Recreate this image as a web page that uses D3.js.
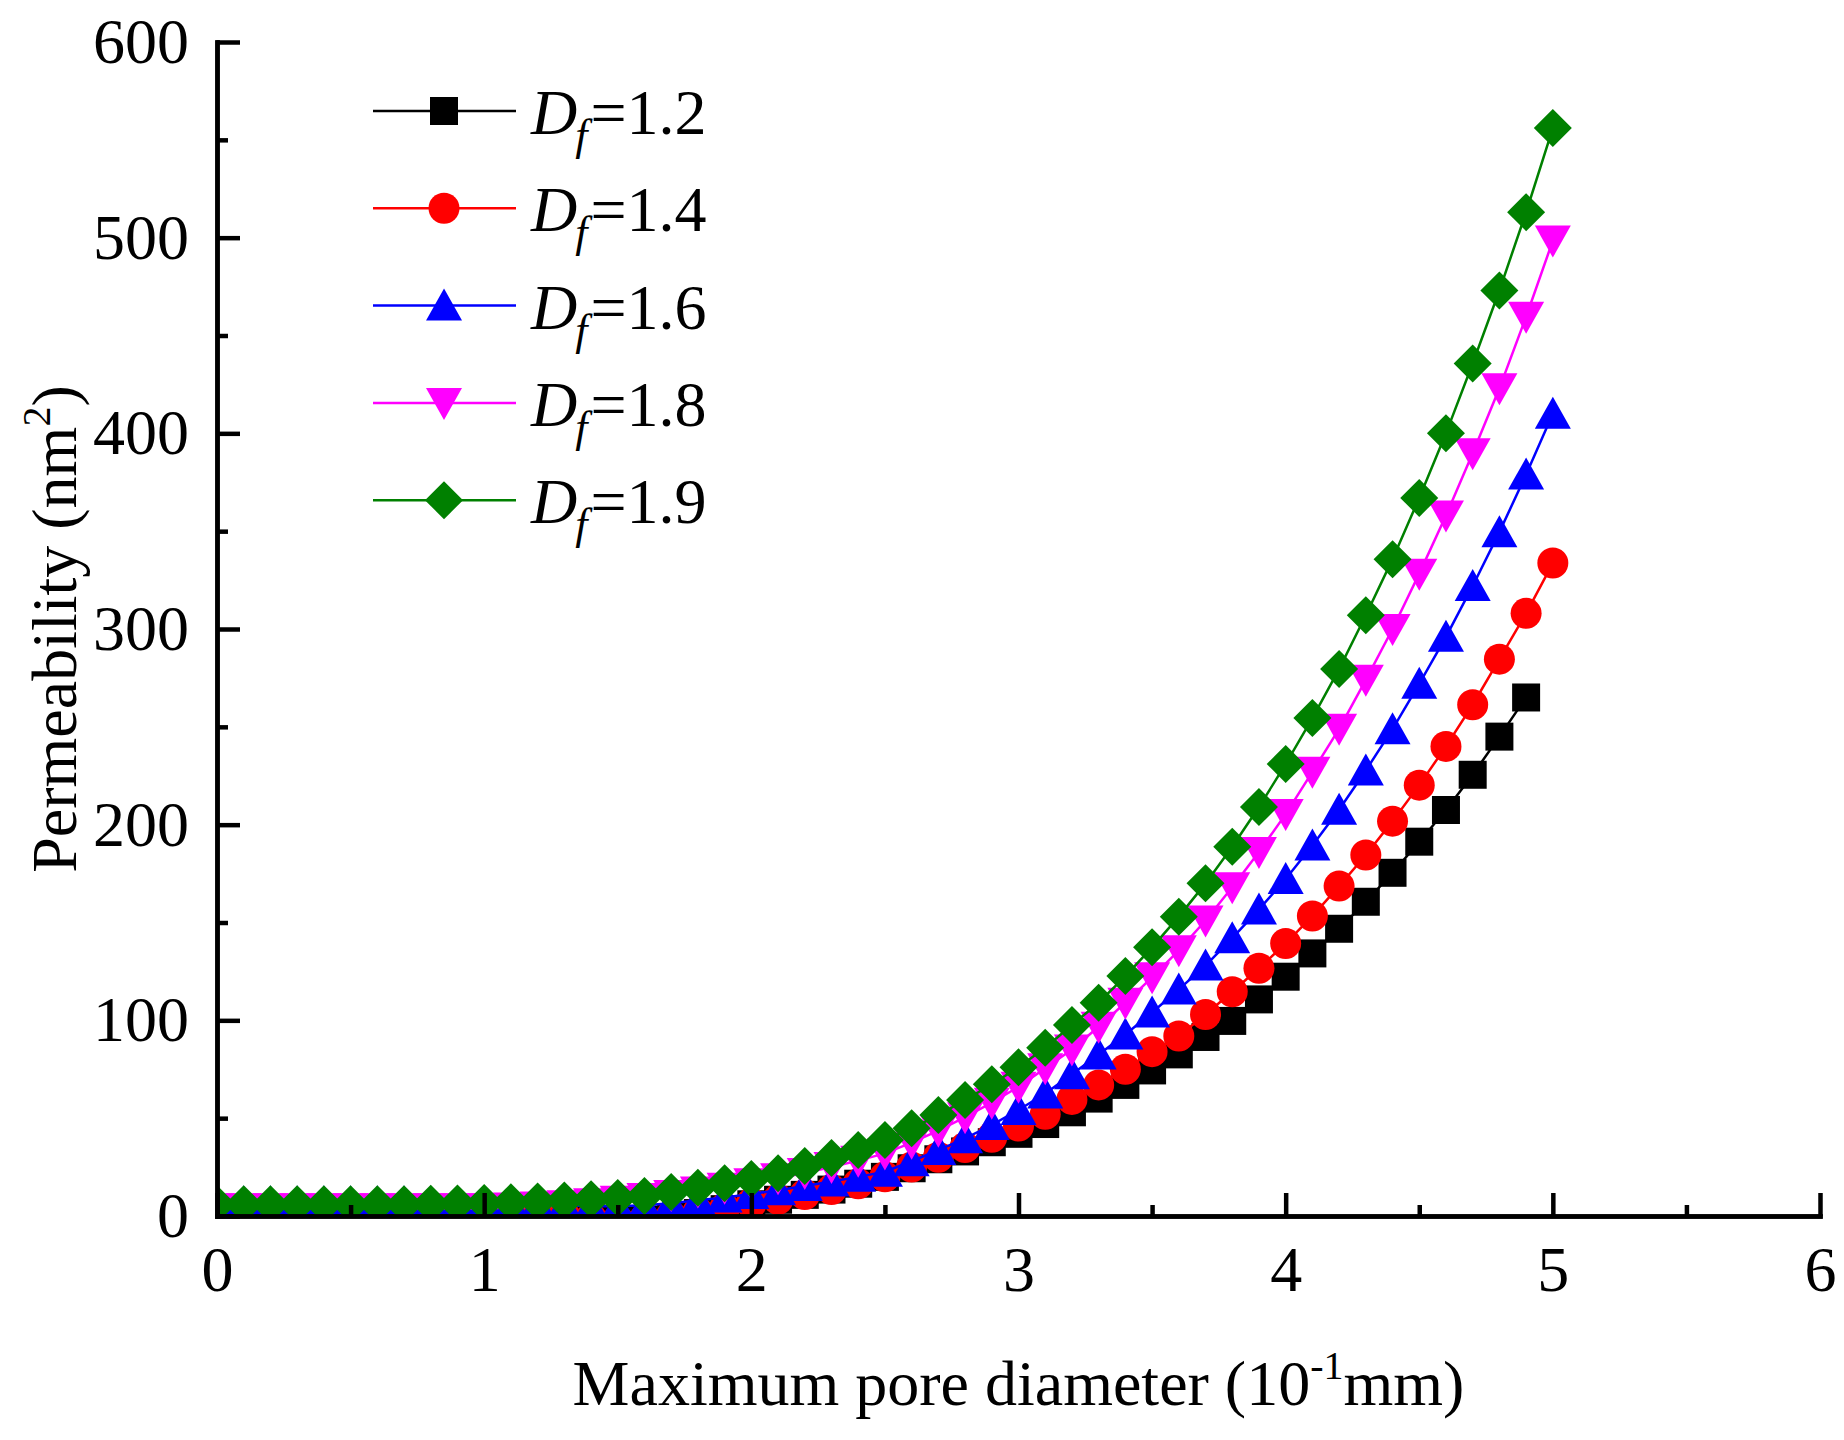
<!DOCTYPE html>
<html>
<head>
<meta charset="utf-8">
<script src="https://cdn.jsdelivr.net/npm/d3@7"></script>
<style>
  body { margin: 0; background: #fff; }
  text { font-family: "Liberation Serif", "Times New Roman", serif; fill: #000; }
</style>
</head>
<body>
<svg id="chart" width="1844" height="1440"></svg>
<script>
// maximum pore diameter (10^-1 mm)
const diameters = [0.0, 0.1, 0.2, 0.3, 0.4, 0.5, 0.6, 0.7, 0.8, 0.9,
  1.0, 1.1, 1.2, 1.3, 1.4, 1.5, 1.6, 1.7, 1.8, 1.9,
  2.0, 2.1, 2.2, 2.3, 2.4, 2.5, 2.6, 2.7, 2.8, 2.9,
  3.0, 3.1, 3.2, 3.3, 3.4, 3.5, 3.6, 3.7, 3.8, 3.9,
  4.0, 4.1, 4.2, 4.3, 4.4, 4.5, 4.6, 4.7, 4.8, 4.9, 5.0];

// permeability (nm^2)
const df12 = [4, 4, 4, 4, 4, 4, 4, 4, 4, 4,
  4, 3, 1.8, 0.3, -1.2, -2.2, -1.8, -0.5, 1.5, 3.5,
  6, 8.3, 10.8, 13.5, 16.5, 20, 24.4, 29, 33, 37.7,
  42, 47, 53, 60, 67, 74.4, 82.6, 91.5, 99.7, 110.7,
  122.3, 134.2, 146.8, 160.6, 175.4, 191.3, 207.5, 225.5, 245, 265];
const df14 = [4, 4, 4, 4, 4, 4, 4, 4, 4, 4,
  4, 3, 2, 0.5, -1, -2, -1.5, 0, 2, 4,
  6.5, 8.5, 11, 13.5, 16.5, 20.1, 25, 30, 35, 40.2,
  46, 52, 59.6, 67, 75, 84, 92, 103, 114.6, 126.6,
  139.3, 153.3, 168.6, 184.5, 201.8, 220.2, 240, 261.3, 284.6, 308, 333.7];
const df16 = [7, 7, 7, 7, 7, 7, 7, 7, 7, 7,
  6.8, 6.5, 6, 5.5, 5, 5, 5.5, 6.5, 8, 9.5,
  11.3, 13.2, 15.3, 17.6, 20, 22.6, 28, 33.7, 39.7, 46.5,
  54.2, 62.6, 72.4, 82.5, 92.8, 104, 115.8, 128, 142, 156.7,
  172.2, 189.4, 207.6, 227.7, 248.8, 272, 296, 322, 349.5, 379, 410];
const df18 = [4, 4, 4, 4, 4, 4, 4, 4, 4, 4,
  4, 4.3, 4.8, 5.5, 6.5, 7.8, 9.2, 10.7, 12.5, 14.5,
  16.8, 19.3, 22, 25, 28.3, 32, 37.5, 43.6, 50.5, 57.9,
  66, 75.5, 85.1, 96.7, 109, 122, 135.8, 151, 168, 186,
  205.4, 227, 249, 274, 300, 328.3, 358, 389.8, 423, 459.6, 498.5];
const df19 = [6, 6, 6, 6, 6, 6, 6, 6, 6.2, 6.4,
  6.7, 7, 7.4, 7.9, 8.5, 9.2, 10.2, 12.3, 14.5, 16.7,
  18.9, 21.8, 25.5, 29.6, 33.7, 38.8, 44.8, 51.6, 59.3, 67.3,
  76, 86, 97.6, 109, 122.6, 137.3, 153, 170, 188.7, 209,
  231, 254.5, 279.5, 307, 335.7, 367, 400, 435.7, 473, 513, 556];

const seriesNames = ["1.2", "1.4", "1.6", "1.8", "1.9"];
const seriesValues = [df12, df14, df16, df18, df19];

const xTicks = [0, 1, 2, 3, 4, 5, 6],
  xMinor = [0.5, 1.5, 2.5, 3.5, 4.5, 5.5],
  yTicks = [0, 100, 200, 300, 400, 500, 600],
  yMinor = [50, 150, 250, 350, 450, 550];

const colors = ["#000000", "#ff0000", "#0000ff", "#ff00ff", "#008000"];

// symbol outlines, drawn around (0,0)
const shapes = [
  "M-14,-14H14V14H-14Z",
  "M-15.5,0A15.5,15.5 0 1,0 15.5,0A15.5,15.5 0 1,0 -15.5,0Z",
  "M0,-17L18,15H-18Z",
  "M0,17L18,-15H-18Z",
  "M0,-19L19,0L0,19L-19,0Z"
];

const plotLeft = 217, plotRight = 1820, plotTop = 42, plotBottom = 1216;

const svg = d3.select("#chart");

const x = d3.scaleLinear().domain([0, 6]).range([plotLeft, plotRight]);
const y = d3.scaleLinear().domain([0, 600]).range([plotBottom, plotTop]);

svg.append("defs").append("clipPath").attr("id", "plot")
  .append("rect")
  .attr("x", plotLeft).attr("y", plotTop - 30)
  .attr("width", plotRight - plotLeft + 30).attr("height", plotBottom - plotTop + 30);

const plot = svg.append("g").attr("clip-path", "url(#plot)");

seriesValues.forEach((vals, s) => {
  const pts = vals.map((v, i) => [diameters[i], v]);
  const line = d3.line().x(d => x(d[0])).y(d => y(d[1]));
  plot.append("path")
    .attr("d", line(pts))
    .attr("fill", "none")
    .attr("stroke", colors[s])
    .attr("stroke-width", 2.5);
  plot.selectAll(null)
    .data(pts)
    .join("path")
    .attr("d", shapes[s])
    .attr("transform", d => `translate(${x(d[0])},${y(d[1])})`)
    .attr("fill", colors[s]);
});

// axes (ticks point inward)
const styleAxis = (g) => {
  g.select(".domain").attr("stroke-width", 4.5);
  g.selectAll(".tick line").attr("stroke-width", 4.5);
  g.selectAll("text").attr("font-size", 64).attr("fill", "#000");
};

svg.append("g")
  .attr("transform", `translate(0,${plotBottom})`)
  .call(d3.axisBottom(x).tickValues(xMinor).tickSize(-11).tickSizeOuter(0).tickFormat(""))
  .call(styleAxis);
svg.append("g")
  .attr("transform", `translate(0,${plotBottom})`)
  .call(d3.axisBottom(x).tickValues(xTicks).tickSize(-23).tickSizeOuter(0)
    .tickPadding(30).tickFormat(d3.format("d")))
  .call(styleAxis);

svg.append("g")
  .attr("transform", `translate(${plotLeft},0)`)
  .call(d3.axisLeft(y).tickValues(yMinor).tickSize(-11).tickSizeOuter(0).tickFormat(""))
  .call(styleAxis);
svg.append("g")
  .attr("transform", `translate(${plotLeft},0)`)
  .call(d3.axisLeft(y).tickValues(yTicks).tickSize(-23).tickSizeOuter(0).tickPadding(28))
  .call(styleAxis);

svg.selectAll(".domain").attr("stroke-linecap", "square");

// axis titles
const xTitle = svg.append("text")
  .attr("x", (plotLeft + plotRight) / 2)
  .attr("y", 1405)
  .attr("text-anchor", "middle")
  .attr("font-size", 64);
xTitle.append("tspan").text("Maximum pore diameter (10");
xTitle.append("tspan").attr("font-size", 40).attr("dy", -26).text("-1");
xTitle.append("tspan").attr("dy", 26).text("mm)");

const yTitle = svg.append("text")
  .attr("transform", `translate(76,${(plotTop + plotBottom) / 2}) rotate(-90)`)
  .attr("text-anchor", "middle")
  .attr("font-size", 64);
yTitle.append("tspan").text("Permeability (nm");
yTitle.append("tspan").attr("font-size", 40).attr("dy", -26).text("2");
yTitle.append("tspan").attr("dy", 26).text(")");

// legend
const legendTop = 111, legendStep = 97.3;
const legend = svg.append("g");
seriesNames.forEach((name, s) => {
  const cy = legendTop + s * legendStep;
  legend.append("line")
    .attr("x1", 373).attr("x2", 516)
    .attr("y1", cy).attr("y2", cy)
    .attr("stroke", colors[s]).attr("stroke-width", 2.5);
  legend.append("path")
    .attr("d", shapes[s])
    .attr("transform", `translate(444,${cy})`)
    .attr("fill", colors[s]);
  const t = legend.append("text")
    .attr("x", 531).attr("y", cy + 23)
    .attr("font-size", 64);
  t.append("tspan").attr("font-style", "italic").text("D");
  t.append("tspan").attr("font-style", "italic").attr("font-size", 44)
    .attr("dx", -2).attr("dy", 16).text("f");
  t.append("tspan").attr("dx", 3).attr("dy", -16).text("=" + name);
});
</script>
</body>
</html>
